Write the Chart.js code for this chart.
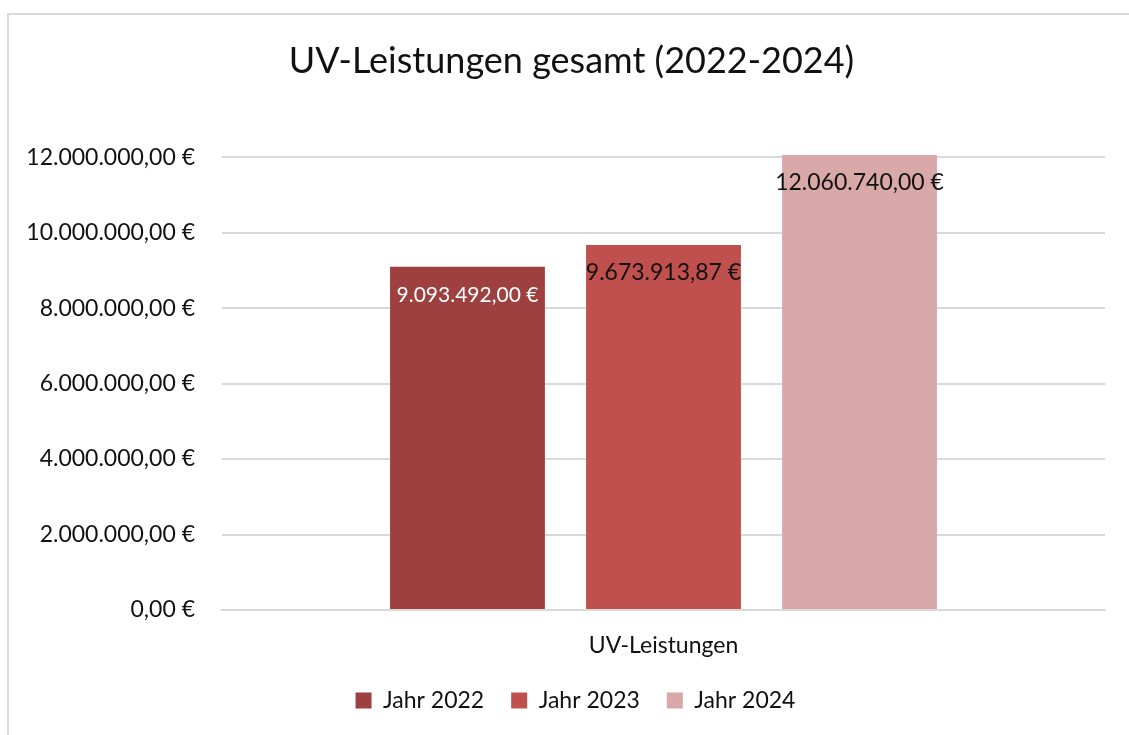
<!DOCTYPE html>
<html>
<head>
<meta charset="utf-8">
<script src="https://cdn.jsdelivr.net/npm/chart.js@4"></script>
<style>
  html,body{margin:0;padding:0;background:#fff;}
  #wrap{position:relative;width:1129px;height:735px;overflow:hidden;}
  #frame{position:absolute;left:7px;top:13px;width:1140px;height:740px;border:2px solid #d9d9d9;box-sizing:border-box;}
  canvas{position:absolute;left:0;top:0;}
</style>
</head>
<body>
<div id="wrap">
  <div id="frame"></div>
  <canvas id="chart" width="1129" height="735"></canvas>
</div>
<script>
// UV-Leistungen gesamt 2022-2024

const categories = ['UV-Leistungen'];
const seriesNames = ['Jahr 2022', 'Jahr 2023', 'Jahr 2024'];
const values2022 = [9093492.00];
const values2023 = [9673913.87];
const values2024 = [12060740.00];
const yTicks = [0, 2000000, 4000000, 6000000, 8000000, 10000000, 12000000];

const colors = ['#9e403f', '#c0504d', '#d9a8a8'];
const labelColors = ['#ffffff', '#111111', '#111111'];
const labelSizes = [21, 23, 23];
const FONT = 'Lato, "Open Sans", sans-serif';

function formatEUR(v){
  return new Intl.NumberFormat('de-DE',{minimumFractionDigits:2,maximumFractionDigits:2}).format(v) + ' €';
}

// draws the value inside the top of each bar
const valueLabels = {
  id: 'valueLabels',
  afterDatasetsDraw(chart){
    const ctx = chart.ctx;
    ctx.save();
    ctx.textAlign = 'center';
    ctx.textBaseline = 'middle';
    chart.data.datasets.forEach((ds, i) => {
      ctx.font = labelSizes[i] + 'px ' + FONT;
      chart.getDatasetMeta(i).data.forEach((bar, j) => {
        ctx.fillStyle = labelColors[i];
        ctx.fillText(formatEUR(ds.data[j]), bar.x, bar.y + 28);
      });
    });
    ctx.restore();
  }
};

// title and legend sit a bit right of the canvas centre in the original
const shiftBlocks = {
  id: 'shiftBlocks',
  afterLayout(chart){
    const t = chart.titleBlock, l = chart.legend;
    if(t){ t.left += 19; t.right += 19; }
    if(l){ l.left += 23; l.right += 23; }
  }
};

const datasets = [values2022, values2023, values2024].map((d, i) => ({
  label: seriesNames[i],
  data: d,
  backgroundColor: colors[i],
  borderWidth: 0,
  clip: false,
  barPercentage: 0.79,
  categoryPercentage: 0.666
}));

new Chart(document.getElementById('chart'), {
  type: 'bar',
  data: { labels: categories, datasets },
  plugins: [valueLabels, shiftBlocks],
  options: {
    responsive: false,
    animation: false,
    layout: { padding: { left: 0, right: 24, top: 0, bottom: 13 } },
    plugins: {
      title: {
        display: true,
        text: 'UV-Leistungen gesamt (2022-2024)',
        color: '#111',
        font: { family: FONT, size: 36, weight: 'normal' },
        padding: { top: 40, bottom: 74 }
      },
      legend: {
        position: 'bottom',
        labels: {
          color: '#111',
          font: { family: FONT, size: 23 },
          boxWidth: 16,
          boxHeight: 16,
          padding: 27
        }
      },
      tooltip: { enabled: false }
    },
    scales: {
      x: {
        grid: { display: false, drawTicks: false },
        border: { color: '#d9d9d9', width: 2 },
        ticks: { color: '#111', font: { family: FONT, size: 23 }, padding: 22 },
        afterFit: s => { s.height = 52; }
      },
      y: {
        min: 0,
        max: 12000000,
        afterBuildTicks: s => { s.ticks = yTicks.map(v => ({ value: v })); },
        afterFit: s => { s.width = 222; },
        grid: { color: '#d9d9d9', lineWidth: 2, drawTicks: false },
        border: { display: false },
        ticks: {
          color: '#111',
          font: { family: FONT, size: 23 },
          padding: 27,
          callback: v => formatEUR(v)
        }
      }
    }
  }
});
</script>
</body>
</html>
